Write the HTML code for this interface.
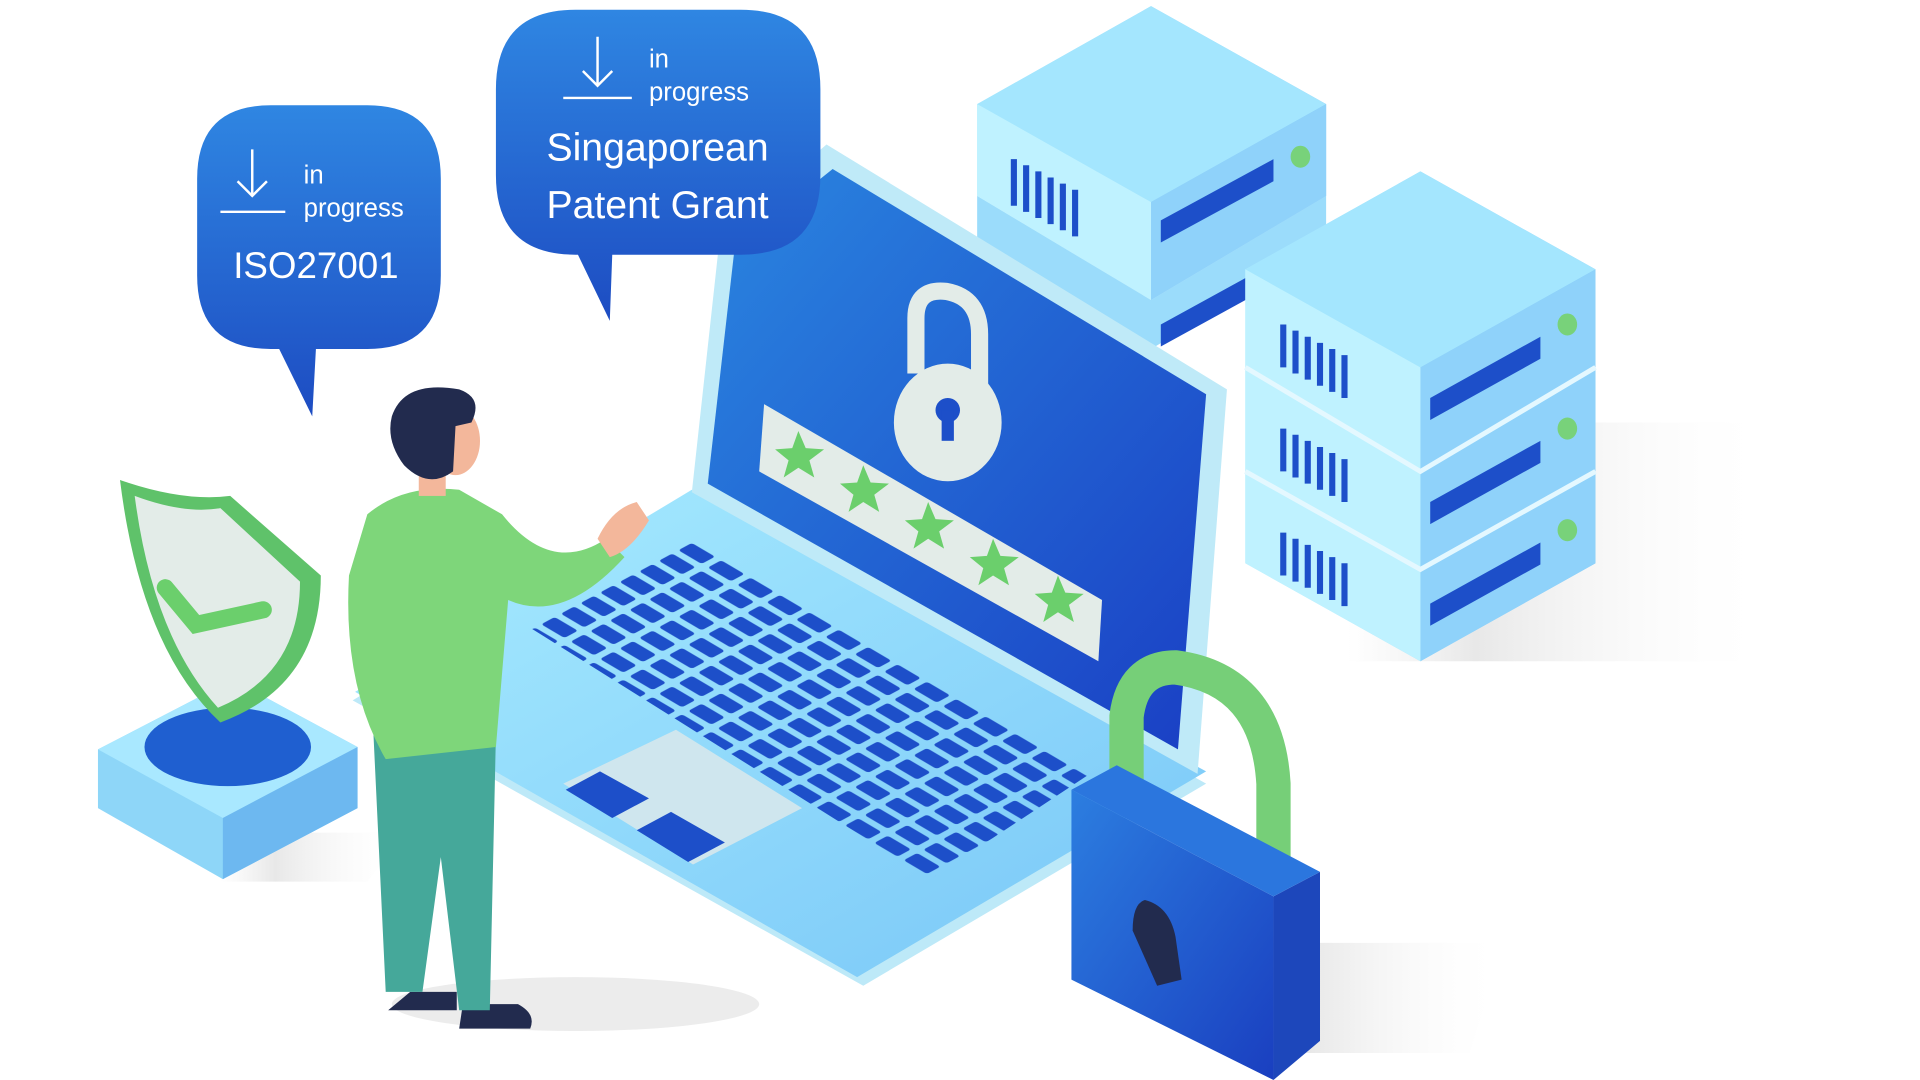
<!DOCTYPE html>
<html><head><meta charset="utf-8"><style>
html,body{margin:0;padding:0;background:#fff;width:1920px;height:1080px;overflow:hidden}
svg{display:block}
text{font-family:"Liberation Sans",sans-serif;fill:#fff}
</style></head><body>
<svg width="1920" height="1080" viewBox="0 0 1568 882" preserveAspectRatio="none" xmlns="http://www.w3.org/2000/svg">
<defs>
<linearGradient id="bub" x1="0" y1="0" x2="0" y2="1"><stop offset="0" stop-color="#2f86e2"/><stop offset="1" stop-color="#1d4cc2"/></linearGradient>
<linearGradient id="scr" x1="0" y1="0" x2="1" y2="1"><stop offset="0" stop-color="#2a86e0"/><stop offset="1" stop-color="#1a3fc4"/></linearGradient>
<linearGradient id="lb" x1="0" y1="0" x2="1" y2="1"><stop offset="0" stop-color="#a8ecff"/><stop offset="1" stop-color="#78c6f7"/></linearGradient>
<linearGradient id="srv" x1="0" y1="0" x2="1" y2="0"><stop offset="0" stop-color="#b4f0ff"/><stop offset="1" stop-color="#7cc4f6"/></linearGradient>
<linearGradient id="lock" x1="0" y1="0" x2="1" y2="1"><stop offset="0" stop-color="#2c7ee0"/><stop offset="1" stop-color="#1a3fc0"/></linearGradient>
<linearGradient id="sh" x1="0" y1="0" x2="1" y2="0"><stop offset="0" stop-color="#eee" stop-opacity="0"/><stop offset=".3" stop-color="#e8e8e8"/><stop offset="1" stop-color="#fff" stop-opacity="0"/></linearGradient>
<pattern id="keys" width="24" height="16" patternUnits="userSpaceOnUse" patternTransform="matrix(1,0.59,-1,0.54,565,440)">
<rect x="3" y="3" width="19" height="11" rx="2" fill="#1d4fc9"/></pattern>
</defs>

<polygon points="1100,345 1450,345 1420,540 1100,540" fill="url(#sh)"/>
<polygon points="1000,770 1230,770 1200,860 1000,860" fill="url(#sh)"/>
<ellipse cx="470" cy="820" rx="150" ry="22" fill="#ececec"/>
<polygon points="180,680 330,680 300,720 180,720" fill="url(#sh)"/>

<!-- back server -->
<g>
<polygon points="798,160 940,245 1083,160 1083,200 940,285 798,200" fill="#9bdcfb"/>
<polygon points="948,265 1030,220 1030,238 948,283" fill="#1d4fc9"/>
<polygon points="798,85 940,5 1083,85 1083,160 940,245 798,160" fill="url(#srv)"/>
<polygon points="798,85 940,5 1083,85 940,165" fill="#a4e6fe"/>
<polygon points="940,165 1083,85 1083,160 940,245" fill="#8fd2fa"/>
<polygon points="798,85 940,165 940,245 798,160" fill="#bff2ff"/>
<path d="M828,130v38M838,135v38M848,140v38M858,145v38M868,150v38M878,155v38" stroke="#1d4fc9" stroke-width="5"/>
<polygon points="948,180 1040,130 1040,148 948,198" fill="#1d4fc9"/>
<ellipse cx="1062" cy="128" rx="8" ry="9" fill="#78d27a"/>
</g>

<!-- front server stack -->
<g>
<polygon points="1017,220 1160,140 1303,220 1303,460 1160,540 1017,460" fill="url(#srv)"/>
<polygon points="1017,220 1160,140 1303,220 1160,300" fill="#a4e6fe"/>
<polygon points="1160,300 1303,220 1303,460 1160,540" fill="#8fd2fa"/>
<polygon points="1017,220 1160,300 1160,540 1017,460" fill="#bff2ff"/>
<path d="M1017,300 1160,385 1303,300 M1017,385 1160,465 1303,385" stroke="#e4f8ff" stroke-width="4" fill="none"/>
<g stroke="#1d4fc9" stroke-width="5">
<path d="M1048,265v35M1058,270v35M1068,275v35M1078,280v35M1088,285v35M1098,290v35"/>
<path d="M1048,350v35M1058,355v35M1068,360v35M1078,365v35M1088,370v35M1098,375v35"/>
<path d="M1048,435v35M1058,440v35M1068,445v35M1078,450v35M1088,455v35M1098,460v35"/>
</g>
<g fill="#1d4fc9">
<polygon points="1168,325 1258,275 1258,293 1168,343"/>
<polygon points="1168,410 1258,360 1258,378 1168,428"/>
<polygon points="1168,493 1258,443 1258,461 1168,511"/>
</g>
<g fill="#78d27a"><ellipse cx="1280" cy="265" rx="8" ry="9"/><ellipse cx="1280" cy="350" rx="8" ry="9"/><ellipse cx="1280" cy="433" rx="8" ry="9"/></g>
</g>

<!-- laptop base -->
<polygon points="288,572 565,405 985,640 705,805" fill="#bde9f8"/>
<polygon points="290,565 565,400 985,630 700,798" fill="url(#lb)"/>
<polygon points="432,512 565,440 890,632 760,718" fill="url(#keys)"/>
<polygon points="460,640 552,596 655,660 566,706" fill="#cfe6ee"/>
<polygon points="462,645 490,630 530,652 500,668" fill="#1d4fc9"/>
<polygon points="520,678 548,663 592,688 562,704" fill="#1d4fc9"/>

<!-- laptop screen -->
<polygon points="588,192 675,118 1002,318 978,632 565,402" fill="#bfeaf8"/>
<polygon points="600,202 680,138 985,322 962,612 578,395" fill="url(#scr)"/>
<polygon points="624,330 900,490 897,540 620,385" fill="#e3ece8"/>
<g fill="#6bcf6c">
<path d="M652,352l6,14 15,1-12,9 4,14-13-8-12,8 4-14-11-9 14-1z"/>
<path d="M705,380l6,14 15,1-12,9 4,14-13-8-12,8 4-14-11-9 14-1z"/>
<path d="M758,410l6,14 15,1-12,9 4,14-13-8-12,8 4-14-11-9 14-1z"/>
<path d="M811,440l6,14 15,1-12,9 4,14-13-8-12,8 4-14-11-9 14-1z"/>
<path d="M864,470l6,14 15,1-12,9 4,14-13-8-12,8 4-14-11-9 14-1z"/>
</g>
<path d="M748,305V260q0-25 25-22q27 5 27 35v50" stroke="#e3ece8" stroke-width="14" fill="none"/>
<ellipse cx="774" cy="345" rx="44" ry="48" fill="#e3ece8"/>
<circle cx="774" cy="335" r="10" fill="#1d4fc9"/><rect x="769" y="335" width="10" height="25" fill="#1d4fc9"/>

<!-- shield platform -->
<polygon points="80,612 190,555 292,610 292,660 182,718 80,660" fill="#8ed6f8"/>
<polygon points="80,612 190,555 292,610 182,668" fill="#a9e8ff"/>
<polygon points="182,668 292,610 292,660 182,718" fill="#6db8f0"/>
<ellipse cx="186" cy="610" rx="68" ry="32" fill="#1f5fd0"/>
<path d="M98,392 Q150,410 188,405 L262,470 Q262,560 180,590 Q115,530 98,392Z" fill="#5fc26a"/>
<path d="M110,405 Q150,420 180,415 L245,475 Q245,550 178,578 Q125,520 110,405Z" fill="#e3ece8"/>
<path d="M135,480 L160,510 L215,498" stroke="#6bcf6c" stroke-width="14" fill="none" stroke-linecap="round"/>

<!-- person -->
<path d="M335,810 h38 v15 h-56z" fill="#222b4e"/>
<path d="M378,820 h45 q15 8 10 20 h-58z" fill="#222b4e"/>
<path d="M305,600 L405,600 L400,825 L375,825 L360,700 L345,810 L315,810Z" fill="#45a89a"/>
<path d="M300,420 Q330,395 375,400 L410,420 Q450,470 495,440 L510,455 Q460,510 415,490 L405,610 L315,620 Q280,560 285,470Z" fill="#7ed67a"/>
<path d="M488,440 Q500,415 520,410 L530,425 Q515,450 498,455Z" fill="#f3b79b"/>
<rect x="342" y="375" width="22" height="30" fill="#f3b79b"/>
<ellipse cx="372" cy="360" rx="20" ry="28" fill="#f3b79b"/>
<path d="M320,340 Q330,310 375,318 Q395,325 385,345 L372,348 L370,385 Q350,400 330,380 Q315,360 320,340Z" fill="#222b4e"/>

<!-- big padlock -->
<path d="M920,640 V585 Q925,545 960,545 Q1035,555 1040,640 V715" stroke="#76cf78" stroke-width="28" fill="none"/>
<polygon points="875,645 875,800 1040,882 1040,732" fill="url(#lock)"/>
<polygon points="1040,732 1078,712 1078,850 1040,882" fill="#1d47bb"/>
<polygon points="875,645 912,625 1078,712 1040,732" fill="#2b76de"/>
<path d="M935,735 Q955,740 960,765 L965,800 L945,805 L925,760 Q925,738 935,735Z" fill="#222b4e"/>

<!-- bubble 1 -->
<path d="M221,86 H300 Q360,86 360,146 V225 Q360,285 300,285 H258 L255,340 L228,285 H221 Q161,285 161,225 V146 Q161,86 221,86Z" fill="url(#bub)"/>
<path d="M206,122v38M194,148l12,12 12-12M180,173h53" stroke="#fff" stroke-width="2" fill="none"/>
<text x="248" y="150" font-size="21">in</text>
<text x="248" y="177" font-size="21">progress</text>
<text x="258" y="227" font-size="30" text-anchor="middle">ISO27001</text>

<!-- bubble 2 -->
<path d="M470,8 H605 Q670,8 670,73 V143 Q670,208 605,208 H500 L498,262 L472,208 H470 Q405,208 405,143 V73 Q405,8 470,8Z" fill="url(#bub)"/>
<path d="M488,30v40M476,58l12,12 12-12M460,80h56" stroke="#fff" stroke-width="2" fill="none"/>
<text x="530" y="55" font-size="21">in</text>
<text x="530" y="82" font-size="21">progress</text>
<text x="537" y="131" font-size="32" text-anchor="middle">Singaporean</text>
<text x="537" y="178" font-size="32" text-anchor="middle">Patent Grant</text>
</svg>
</body></html>
